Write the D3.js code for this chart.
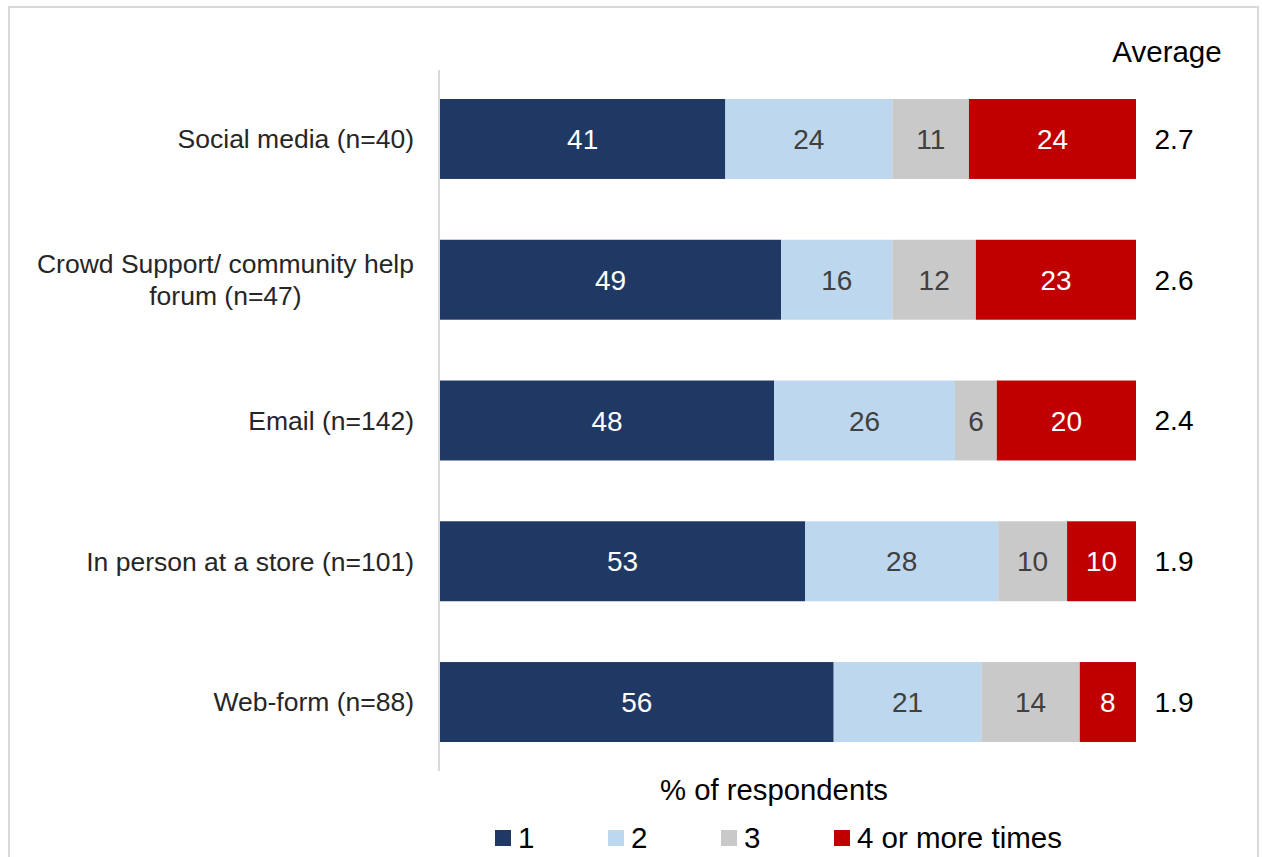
<!DOCTYPE html>
<html>
<head>
<meta charset="utf-8">
<script src="https://cdn.jsdelivr.net/npm/d3@7"></script>
<style>
  html, body { margin: 0; padding: 0; background: #fff; }
  svg { display: block; font-family: "Liberation Sans", Arial, sans-serif; }
</style>
</head>
<body>
<svg id="chart" width="1262" height="857"></svg>
<script>
// Contact channels and how many times respondents had to get in touch
const categories = [
  "Social media (n=40)",
  "Crowd Support/ community help\nforum (n=47)",
  "Email (n=142)",
  "In person at a store (n=101)",
  "Web-form (n=88)"
];
const seriesNames = ["1", "2", "3", "4 or more times"];
const once = [41, 49, 48, 53, 56];
const twice = [24, 16, 26, 28, 21];
const threeTimes = [11, 12, 6, 10, 14];
const fourOrMore = [24, 23, 20, 10, 8];
const averages = [2.7, 2.6, 2.4, 1.9, 1.9];
const averageTitle = "Average";
const axisTitle = "% of respondents";

const colors = ["#203864", "#bdd7ee", "#c9c9c9", "#c00000"];
const labelColors = ["#ffffff", "#404040", "#404040", "#ffffff"];

const rows = categories.map((c, i) => ({
  category: c,
  "1": once[i],
  "2": twice[i],
  "3": threeTimes[i],
  "4 or more times": fourOrMore[i],
  average: averages[i]
}));

const svg = d3.select("#chart");

// outer frame
svg.append("rect")
  .attr("x", 9).attr("y", 7)
  .attr("width", 1249).attr("height", 880)
  .attr("fill", "none")
  .attr("stroke", "#d9d9d9")
  .attr("stroke-width", 2);

const x = d3.scaleLinear().domain([0, 1]).range([440, 1136]);
const y = d3.scaleBand()
  .domain(categories)
  .range([70, 771])
  .paddingInner(0.432)
  .paddingOuter(0.206);

// each row is shown as a share of its own total
const stacked = d3.stack()
  .keys(seriesNames)
  .offset(d3.stackOffsetExpand)(rows);

const layers = svg.append("g").selectAll("g")
  .data(stacked)
  .join("g")
  .attr("fill", (d, i) => colors[i]);

layers.selectAll("rect")
  .data(d => d)
  .join("rect")
  .attr("x", d => x(d[0]))
  .attr("y", d => y(d.data.category))
  .attr("width", d => x(d[1]) - x(d[0]))
  .attr("height", y.bandwidth());

// segment value labels
const labelLayers = svg.append("g").selectAll("g")
  .data(stacked)
  .join("g")
  .attr("fill", (d, i) => labelColors[i]);

labelLayers.selectAll("text")
  .data(d => d.map(p => ({ p, key: d.key })))
  .join("text")
  .attr("x", d => (x(d.p[0]) + x(d.p[1])) / 2)
  .attr("y", d => y(d.p.data.category) + y.bandwidth() / 2)
  .attr("dy", "0.36em")
  .attr("text-anchor", "middle")
  .attr("font-size", 28)
  .text(d => d.p.data[d.key]);

// vertical category axis line
svg.append("line")
  .attr("x1", 439).attr("x2", 439)
  .attr("y1", y.range()[0]).attr("y2", y.range()[1])
  .attr("stroke", "#d9d9d9")
  .attr("stroke-width", 2);

// category labels (multi-line labels are centred on their widest line)
const catG = svg.append("g");
categories.forEach(c => {
  const lines = c.split("\n");
  const cy = y(c) + y.bandwidth() / 2;
  const lh = 32;
  const t = catG.append("text")
    .attr("font-size", 26.5)
    .attr("fill", "#262626")
    .attr("text-anchor", "end");
  lines.forEach((ln, i) => {
    t.append("tspan")
      .attr("x", 414)
      .attr("y", cy + (i - (lines.length - 1) / 2) * lh)
      .attr("dy", "0.35em")
      .text(ln);
  });
  if (lines.length > 1) {
    const tspans = t.selectAll("tspan").nodes();
    const widest = d3.max(tspans, n => n.getComputedTextLength());
    t.attr("text-anchor", "middle");
    t.selectAll("tspan").attr("x", 414 - widest / 2);
  }
});

// average column
svg.append("text")
  .attr("x", 1167).attr("y", 62)
  .attr("text-anchor", "middle")
  .attr("font-size", 29.5)
  .attr("fill", "#000")
  .text(averageTitle);

svg.append("g").selectAll("text")
  .data(rows)
  .join("text")
  .attr("x", x(1) + 38)
  .attr("y", d => y(d.category) + y.bandwidth() / 2)
  .attr("dy", "0.35em")
  .attr("text-anchor", "middle")
  .attr("font-size", 28)
  .attr("fill", "#000")
  .text(d => d3.format(".1f")(d.average));

// x-axis title
svg.append("text")
  .attr("x", 774).attr("y", 800)
  .attr("text-anchor", "middle")
  .attr("font-size", 29.3)
  .attr("fill", "#000")
  .text(axisTitle);

// legend
const legendX = [495, 608, 721, 834];
const legend = svg.append("g").selectAll("g")
  .data(seriesNames)
  .join("g")
  .attr("transform", (d, i) => `translate(${legendX[i]},830)`);
legend.append("rect")
  .attr("width", 16).attr("height", 16)
  .attr("fill", (d, i) => colors[i]);
legend.append("text")
  .attr("x", 23).attr("y", 18)
  .attr("font-size", 29.5)
  .attr("fill", "#000")
  .text(d => d);
</script>
</body>
</html>
